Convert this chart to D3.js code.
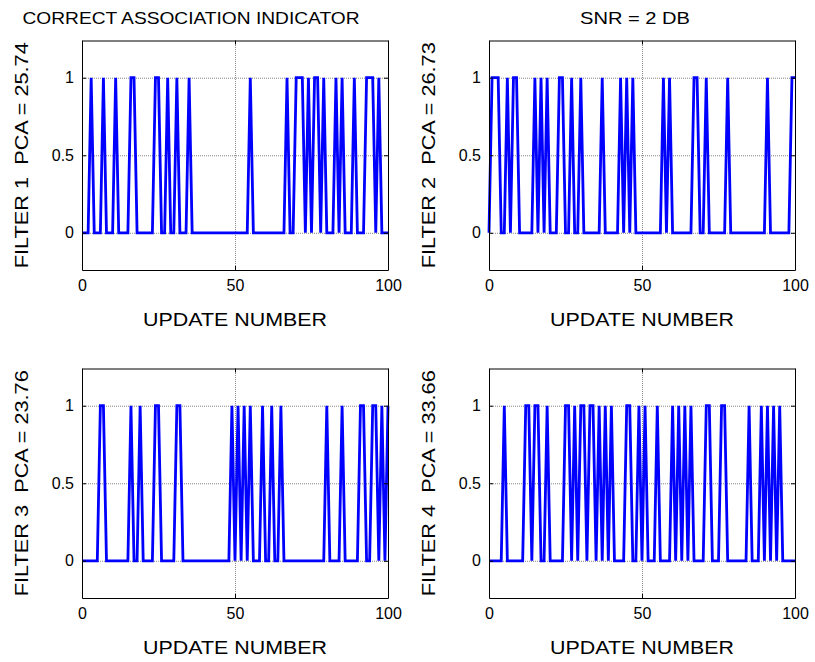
<!DOCTYPE html>
<html>
<head>
<meta charset="utf-8">
<script src="https://cdn.jsdelivr.net/npm/d3@7"></script>
<style>
  body { margin: 0; background: #fff; }
  svg { display: block; font-family: Arial, 'Liberation Sans', sans-serif; }
</style>
</head>
<body>
<div id="chart"></div>
<script>
// update numbers where the association was correct (value 1), 0..100 otherwise 0
const hitsFilter1 = [3, 7, 11, 16, 17, 24, 25, 28, 31, 35, 55, 67, 70, 71, 72, 74, 76, 77, 79, 83, 85, 89, 93, 94, 95, 97];
const hitsFilter2 = [1, 2, 3, 6, 8, 9, 15, 17, 19, 23, 24, 27, 30, 37, 43, 45, 47, 57, 59, 67, 68, 71, 78, 91, 99, 100];
const hitsFilter3 = [6, 7, 16, 19, 24, 25, 31, 32, 49, 51, 53, 55, 59, 62, 65, 80, 85, 91, 92, 95, 96, 98, 100];
const hitsFilter4 = [5, 12, 13, 15, 16, 19, 25, 26, 28, 30, 31, 33, 34, 36, 38, 40, 45, 46, 49, 51, 55, 60, 62, 64, 66, 71, 72, 76, 77, 85, 89, 91, 93, 95];

const updates = d3.range(0, 101);
const yLabels = ['FILTER 1  PCA = 25.74', 'FILTER 2  PCA = 26.73', 'FILTER 3  PCA = 23.76', 'FILTER 4  PCA = 33.66'];
const titles = ['CORRECT ASSOCIATION INDICATOR', 'SNR = 2 DB', '', ''];
const xTicks = [0, 50, 100];
const yTicks = [0, 0.5, 1];
const xLabel = 'UPDATE NUMBER';

const width = 815, height = 662;
const panels = [
  { x0: 82, y0: 40.5, hits: hitsFilter1, titleX: 109, titleLen: 337 },
  { x0: 489, y0: 40.5, hits: hitsFilter2, titleX: 146, titleLen: 110 },
  { x0: 82, y0: 368.5, hits: hitsFilter3 },
  { x0: 489, y0: 368.5, hits: hitsFilter4 }
];
const w = 306, h = 229.5;

const svg = d3.select('#chart').append('svg')
  .attr('width', width)
  .attr('height', height);

panels.forEach((p, i) => {
  const data = updates.map(u => ({ u, v: p.hits.includes(u) ? 1 : 0 }));
  const x = d3.scaleLinear().domain([0, 100]).range([0, w]);
  const y = d3.scaleLinear().domain([-0.24, 1.24]).range([h, 0]);

  const g = svg.append('g')
    .attr('transform', `translate(${p.x0},${p.y0})`);

  // grid
  g.append('g')
    .attr('transform', `translate(0,${h})`)
    .call(d3.axisBottom(x).tickValues(xTicks).tickSize(-h).tickFormat(''))
    .call(s => s.select('.domain').remove())
    .selectAll('line').attr('stroke', '#888').attr('stroke-dasharray', '1,1');
  g.append('g')
    .call(d3.axisLeft(y).tickValues(yTicks).tickSize(-w).tickFormat(''))
    .call(s => s.select('.domain').remove())
    .selectAll('line').attr('stroke', '#888').attr('stroke-dasharray', '1,1');

  // series
  g.append('path')
    .datum(data)
    .attr('fill', 'none')
    .attr('stroke', '#0000ff')
    .attr('stroke-width', 2.8)
    .attr('d', d3.line().x(d => x(d.u)).y(d => y(d.v)));

  // axes box
  g.append('g')
    .attr('transform', `translate(0,${h})`)
    .call(d3.axisBottom(x).tickValues(xTicks).tickSize(-4).tickSizeOuter(0).tickPadding(10))
    .attr('font-size', 16).attr('font-family', null);
  g.append('g')
    .call(d3.axisTop(x).tickValues(xTicks).tickSize(-4).tickSizeOuter(0).tickFormat(''));
  g.append('g')
    .call(d3.axisLeft(y).tickValues(yTicks).tickSize(-4).tickSizeOuter(0).tickPadding(8).tickFormat(d3.format('~g')))
    .attr('font-size', 16).attr('font-family', null);
  g.append('g')
    .attr('transform', `translate(${w},0)`)
    .call(d3.axisRight(y).tickValues(yTicks).tickSize(-4).tickSizeOuter(0).tickFormat(''));
  g.selectAll('.domain').attr('stroke', '#000');
  g.selectAll('.tick text').attr('fill', '#000');

  // labels
  g.append('text')
    .attr('x', w / 2).attr('y', h + 56)
    .attr('text-anchor', 'middle')
    .attr('font-size', 18)
    .attr('textLength', 184)
    .attr('lengthAdjust', 'spacingAndGlyphs')
    .text(xLabel);
  g.append('text')
    .attr('transform', `translate(-54,${h / 2}) rotate(-90)`)
    .attr('text-anchor', 'middle')
    .attr('font-size', 18)
    .attr('textLength', 226)
    .attr('lengthAdjust', 'spacingAndGlyphs')
    .style('white-space', 'pre')
    .text(yLabels[i]);
  if (titles[i]) {
    g.append('text')
      .attr('x', p.titleX).attr('y', -17)
      .attr('text-anchor', 'middle')
      .attr('font-size', 17)
      .attr('textLength', p.titleLen)
      .attr('lengthAdjust', 'spacingAndGlyphs')
      .text(titles[i]);
  }
});
</script>
</body>
</html>
